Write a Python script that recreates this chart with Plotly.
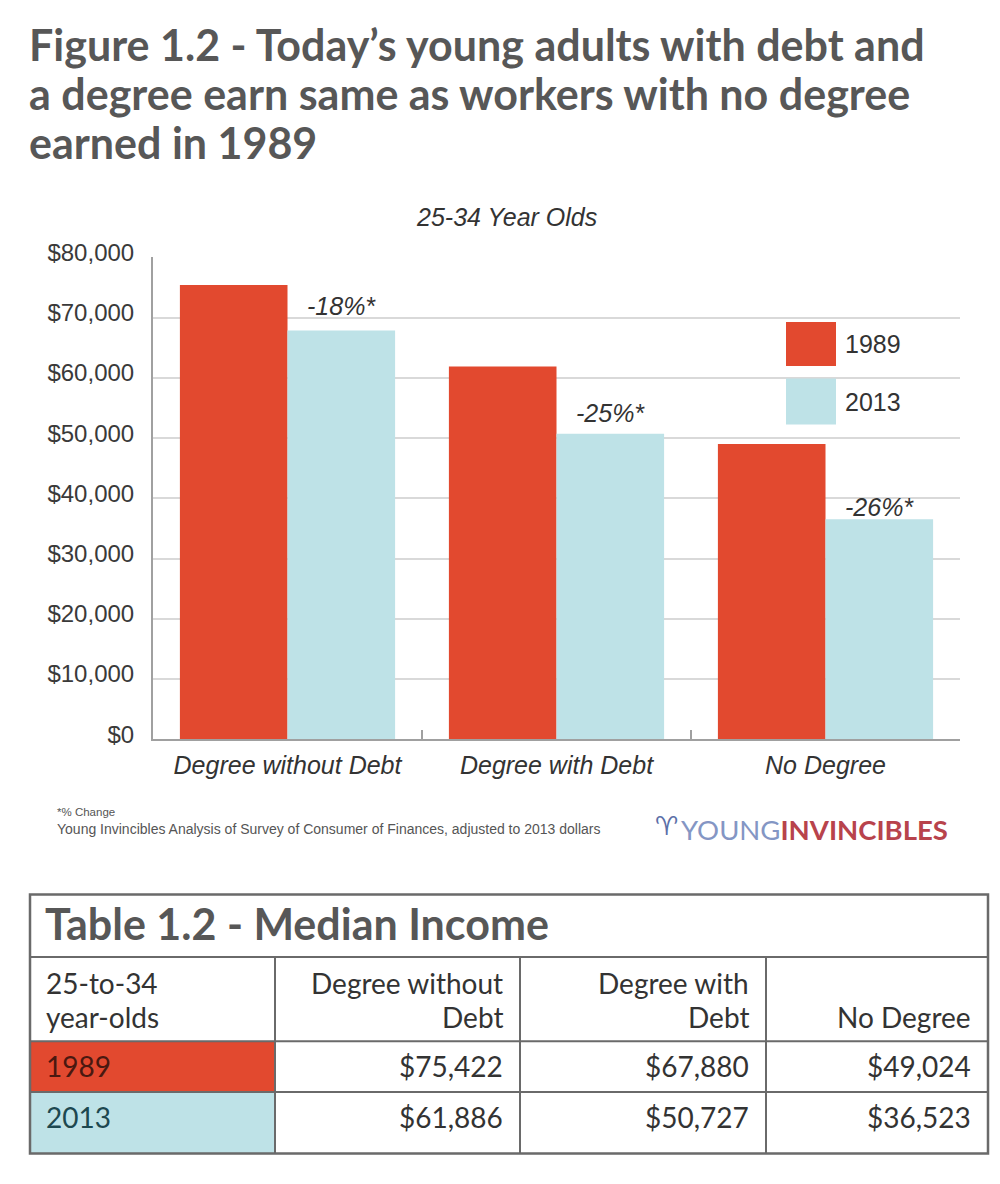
import plotly.graph_objects as go

# ---------------- data ----------------
categories = ["Degree without Debt", "Degree with Debt", "No Degree"]
years = ["1989", "2013"]
income_1989 = [75422, 61886, 49024]
income_2013 = [67880, 50727, 36523]
pct_change = ["-18%*", "-25%*", "-26%*"]
y_tick_vals = [0, 10000, 20000, 30000, 40000, 50000, 60000, 70000, 80000]
y_tick_text = ["$0", "$10,000", "$20,000", "$30,000", "$40,000",
               "$50,000", "$60,000", "$70,000", "$80,000"]

title_lines = ["Figure 1.2 - Today\u2019s young adults with debt and",
               "a degree earn same as workers with no degree",
               "earned in 1989"]
subtitle = "25-34 Year Olds"
footnotes = ["*% Change",
             "Young Invincibles Analysis of Survey of Consumer of Finances, adjusted to 2013 dollars"]
logo_parts = ["YOUNG", "INVINCIBLES"]

table_title = "Table 1.2 - Median Income"
table_header = [["25-to-34", "year-olds"], ["Degree without", "Debt"],
                ["Degree with", "Debt"], ["No Degree"]]
table_row_labels = ["1989", "2013"]
table_values_1989 = [75422, 67880, 49024]
table_values_2013 = [61886, 50727, 36523]

# ---------------- style ----------------
W, H = 1000, 1184
RED = "#e2492f"
BLUE = "#bee2e7"
GRID = "#d9d9d9"
AXIS = "#a0a0a0"
TXT = "#333333"
TITLE_C = "#575757"
TABLE_LINE = "#6a6a6a"


def px(x):
    return x / W


def py(y):
    return 1 - y / H


fig = go.Figure()
fig.add_trace(go.Bar(x=categories, y=income_1989, name=years[0],
                     marker=dict(color=RED, line=dict(width=0)), hoverinfo="skip"))
fig.add_trace(go.Bar(x=categories, y=income_2013, name=years[1],
                     marker=dict(color=BLUE, line=dict(width=0)), hoverinfo="skip"))

annotations = []
shapes = []

# percent-change labels above the 2013 bars
pct_yshift = [8, 5, -4]
for cat, v, lab, ys in zip(categories, income_2013, pct_change, pct_yshift):
    annotations.append(dict(x=cat, y=v, xref="x", yref="y", text=lab, showarrow=False,
                            xshift=54, yshift=ys, yanchor="bottom", xanchor="center",
                            font=dict(family="Arial", size=25, color=TXT, style="italic")))

# title
title_y = [26, 76, 126]
for line, yy in zip(title_lines, title_y):
    annotations.append(dict(x=px(27), y=py(yy), xref="paper", yref="paper", text=line,
                            showarrow=False, xanchor="left", yanchor="middle",
                            font=dict(family="Lato", size=43, color=TITLE_C, weight=700)))

# subtitle
annotations.append(dict(x=px(506), y=py(203), xref="paper", yref="paper", text=subtitle,
                        showarrow=False, xanchor="center", yanchor="middle",
                        font=dict(family="Arial", size=25, color=TXT, style="italic")))

# legend
leg_y = [(310, 355), (368, 415)]
for yr, col, (y0, y1) in zip(years, [RED, BLUE], leg_y):
    shapes.append(dict(type="rect", xref="paper", yref="paper", x0=px(786), x1=px(836),
                       y0=py(y1), y1=py(y0), fillcolor=col, line=dict(width=0)))
    annotations.append(dict(x=px(843), y=py((y0 + y1) / 2), xref="paper", yref="paper",
                            text=yr, showarrow=False, xanchor="left", yanchor="middle",
                            font=dict(family="Arial", size=25, color=TXT)))

# footnotes
annotations.append(dict(x=px(55), y=py(812), xref="paper", yref="paper", text=footnotes[0],
                        showarrow=False, xanchor="left", yanchor="middle",
                        font=dict(family="Arial", size=11.5, color="#555")))
annotations.append(dict(x=px(55), y=py(829), xref="paper", yref="paper", text=footnotes[1],
                        showarrow=False, xanchor="left", yanchor="middle",
                        font=dict(family="Arial", size=14, color="#555")))

# logo
annotations.append(dict(x=px(666), y=py(826), xref="paper", yref="paper", text="\u2648",
                        showarrow=False, xanchor="center", yanchor="middle",
                        font=dict(family="DejaVu Sans", size=26, color="#5b6fa8")))
annotations.append(dict(x=px(679), y=py(829), xref="paper", yref="paper",
                        text=f"<span style='color:#8496c4'>{logo_parts[0]}</span>"
                             f"<span style='color:#b8434c'><b>{logo_parts[1]}</b></span>",
                        showarrow=False, xanchor="left", yanchor="middle",
                        font=dict(family="Lato", size=27.5)))

# ---------------- table ----------------
tx0, tx1 = 30, 988
ty_top, ty_title, ty_head, ty_r1, ty_bot = 896, 960, 1046, 1098, 1161
col_x = [30, 275, 520, 766, 988]

shapes.append(dict(type="rect", xref="paper", yref="paper", x0=px(col_x[0]), x1=px(col_x[1]),
                   y0=py(ty_r1), y1=py(ty_head), fillcolor=RED, line=dict(width=0), layer="below"))
shapes.append(dict(type="rect", xref="paper", yref="paper", x0=px(col_x[0]), x1=px(col_x[1]),
                   y0=py(ty_bot), y1=py(ty_r1), fillcolor=BLUE, line=dict(width=0), layer="below"))
for yy in [ty_title, ty_head, ty_r1]:
    shapes.append(dict(type="line", xref="paper", yref="paper", x0=px(tx0), x1=px(tx1),
                       y0=py(yy), y1=py(yy), line=dict(color=TABLE_LINE, width=2)))
for xx in col_x[1:-1]:
    shapes.append(dict(type="line", xref="paper", yref="paper", x0=px(xx), x1=px(xx),
                       y0=py(ty_title), y1=py(ty_bot), line=dict(color=TABLE_LINE, width=2)))
shapes.append(dict(type="rect", xref="paper", yref="paper", x0=px(tx0), x1=px(tx1),
                   y0=py(ty_bot), y1=py(ty_top), line=dict(color=TABLE_LINE, width=2.5)))

annotations.append(dict(x=px(43), y=py(926), xref="paper", yref="paper", text=table_title,
                        showarrow=False, xanchor="left", yanchor="middle",
                        font=dict(family="Lato", size=43, color=TITLE_C, weight=700)))

head_line_y = [986, 1021]
body_font = dict(family="Lato", size=28, color=TXT)
for ci, lines in enumerate(table_header):
    n = len(lines)
    for li, line in enumerate(lines):
        yy = head_line_y[2 - n + li]
        if ci == 0:
            ax, xa = col_x[0] + 14, "left"
        else:
            ax, xa = col_x[ci + 1] - 15, "right"
        annotations.append(dict(x=px(ax), y=py(yy), xref="paper", yref="paper", text=line,
                                showarrow=False, xanchor=xa, yanchor="middle", font=body_font))

row_y = [1071, 1124]
row_label_colors = ["#4a1810", "#1d4850"]
for label, vals, yy, lc in zip(table_row_labels, [table_values_1989, table_values_2013],
                               row_y, row_label_colors):
    annotations.append(dict(x=px(col_x[0] + 14), y=py(yy), xref="paper", yref="paper",
                            text=label, showarrow=False, xanchor="left", yanchor="middle",
                            font=dict(family="Lato", size=28, color=lc)))
    for ci, v in enumerate(vals):
        annotations.append(dict(x=px(col_x[ci + 2] - 15), y=py(yy), xref="paper", yref="paper",
                                text=f"${v:,}", showarrow=False, xanchor="right",
                                yanchor="middle", font=body_font))

fig.update_layout(
    width=W, height=H,
    margin=dict(l=0, r=0, t=0, b=0),
    paper_bgcolor="white", plot_bgcolor="white",
    showlegend=False,
    barmode="group", bargap=0.2, bargroupgap=0,
    xaxis=dict(domain=[px(153), px(960)], type="category", showline=True,
               linecolor=AXIS, linewidth=2, ticks="inside", tickson="boundaries",
               ticklen=9, tickwidth=1.5, tickcolor=AXIS, showgrid=False,
               tickfont=dict(family="Arial", size=25, color=TXT, style="italic"),
               ticklabelstandoff=3),
    yaxis=dict(domain=[py(737), py(244)], range=[0, 80000], tickvals=y_tick_vals,
               ticktext=y_tick_text, showgrid=True, gridcolor=GRID, gridwidth=1.5,
               showline=True, linecolor=AXIS, linewidth=2, zeroline=False, ticks="",
               tickfont=dict(family="Arial", size=24, color="#3a3a3a"),
               ticklabelstandoff=12, ticklabelshift=-5),
    annotations=annotations,
    shapes=shapes,
)

fig.write_html("out.html", config={"displayModeBar": False},
               post_script="document.body.style.margin='0';document.body.style.overflow='hidden';")
